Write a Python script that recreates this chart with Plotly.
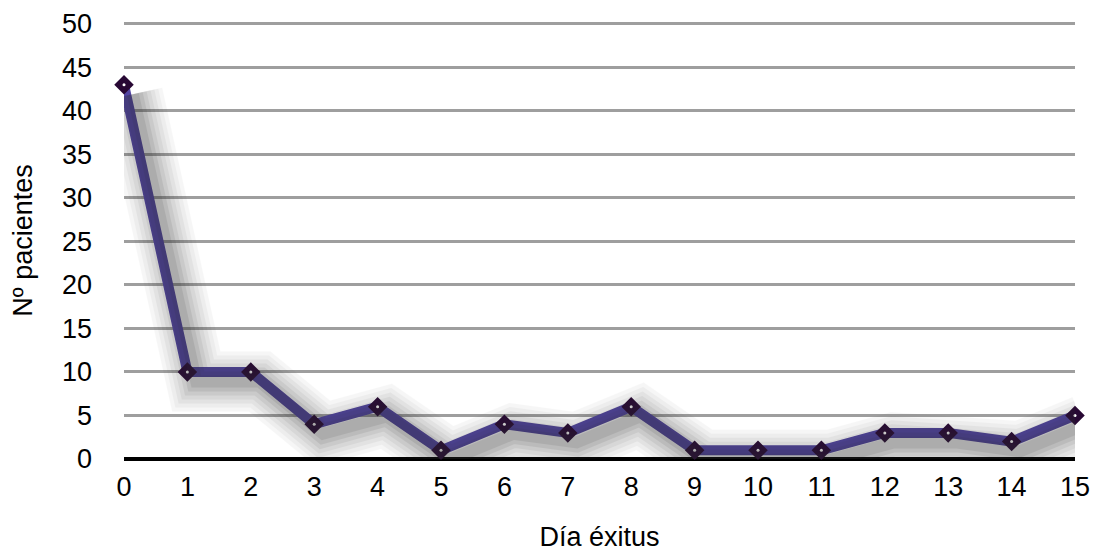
import plotly.graph_objects as go

dias = list(range(16))
pacientes = [43, 10, 10, 4, 6, 1, 4, 3, 6, 1, 1, 1, 3, 3, 2, 5]
y_ticks = [0, 5, 10, 15, 20, 25, 30, 35, 40, 45, 50]

FONT = "Liberation Sans, Arial, Helvetica, sans-serif"
FS = 27
fig = go.Figure()

# soft drop shadow: same data on overlay axes whose ranges are shifted
shadow_dx = 0.14
shadow_dy = 1.1
Y_TOP = 50.2
for w, op in [(60, 0.035), (52, 0.04), (44, 0.05), (36, 0.06), (28, 0.07), (20, 0.09), (12, 0.1)]:
    fig.add_trace(go.Scatter(
        x=dias, y=pacientes, mode="lines", xaxis="x2", yaxis="y2",
        line=dict(color="rgb(50,50,50)", width=w), opacity=op,
        hoverinfo="skip", showlegend=False, cliponaxis=False))

fig.add_trace(go.Scatter(
    x=dias, y=pacientes, mode="lines",
    line=dict(color="rgb(82,68,162)", width=10),
    showlegend=False, cliponaxis=False))
fig.add_trace(go.Scatter(
    x=dias, y=pacientes, mode="markers",
    marker=dict(symbol="diamond", size=15, color="rgb(40,8,52)",
                line=dict(color="rgb(40,8,52)", width=0)),
    showlegend=False, cliponaxis=False))
fig.add_trace(go.Scatter(
    x=dias, y=pacientes, mode="markers",
    marker=dict(symbol="circle", size=3, color="white"),
    showlegend=False, cliponaxis=False, hoverinfo="skip"))

fig.update_layout(
    width=1090, height=544,
    margin=dict(l=116, r=23, t=14, b=93, autoexpand=False),
    paper_bgcolor="white", plot_bgcolor="white",
    font=dict(family=FONT, size=FS, color="black"),
    xaxis=dict(range=[0, 15], tickvals=dias, ticktext=[str(d) for d in dias],
               showgrid=False, zeroline=False, showline=False, ticks="",
               ticklabelstandoff=9, automargin=False,
               title=dict(text="Día éxitus", standoff=30, font=dict(size=FS))),
    yaxis=dict(range=[0, Y_TOP], tickvals=y_ticks, showgrid=True,
               gridcolor="rgb(158,158,158)", gridwidth=3,
               zeroline=True, zerolinecolor="black", zerolinewidth=4,
               showline=False, ticks="", ticklabelstandoff=31, automargin=False,
               title=dict(text="Nº pacientes", standoff=22, font=dict(size=FS))),
    xaxis2=dict(range=[0 - shadow_dx, 15 - shadow_dx], overlaying="x",
                visible=False, fixedrange=True),
    yaxis2=dict(range=[0 + shadow_dy, Y_TOP + shadow_dy], overlaying="y",
                visible=False, fixedrange=True),
)

fig.write_html("out.html")
